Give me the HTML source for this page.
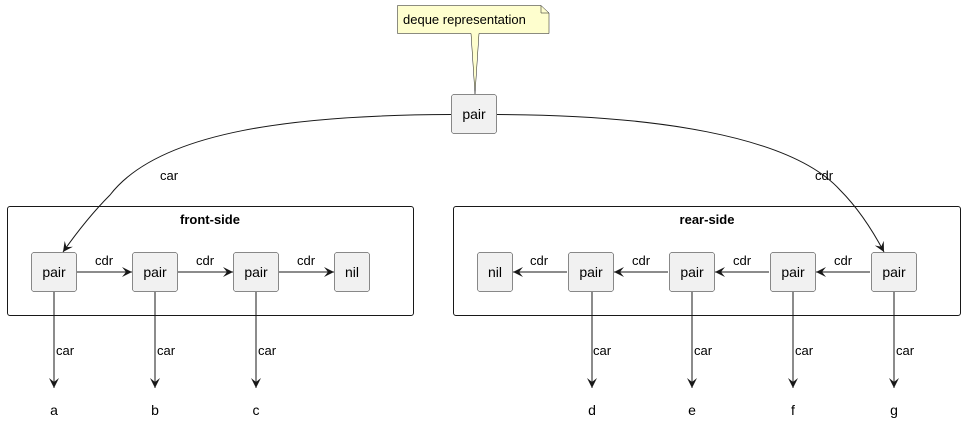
<!DOCTYPE html>
<html><head><meta charset="utf-8"><style>
body{margin:0;background:#fff}
text{font-family:"Liberation Sans","DejaVu Sans",sans-serif;font-size:13px;fill:#000}
</style></head><body>
<svg width="965" height="421" xmlns="http://www.w3.org/2000/svg">
<defs><marker id="a" markerWidth="12" markerHeight="10" refX="10" refY="5" orient="auto" markerUnits="userSpaceOnUse"><path d="M0,0 L10,5 L0,10 L4,5 Z" fill="#181818"/></marker></defs>
<g fill="none" stroke="#181818" stroke-width="1">
<rect x="7.5" y="206.5" width="406" height="109" rx="2.5"/>
<rect x="453.5" y="206.5" width="507" height="109" rx="2.5"/>
</g>
<text x="210" y="224" text-anchor="middle" font-weight="bold">front-side</text>
<text x="707" y="224" text-anchor="middle" font-weight="bold">rear-side</text>
<path d="M397.5,5.5 H541 L549,13 V33.5 H479 L475,94 L471,33.5 H397.5 Z" fill="#fefece" stroke="#181818" stroke-width="0.5"/>
<path d="M541,5.5 V13 H549" fill="none" stroke="#181818" stroke-width="0.5"/>
<text x="403" y="24" font-size="12">deque representation</text>
<g fill="#f1f1f1" stroke="#181818" stroke-width="0.5">
<rect x="451.5" y="94.5" width="45" height="39" rx="2.5"/>
<rect x="31.5" y="252.5" width="45" height="39" rx="2.5"/>
<rect x="132.5" y="252.5" width="45" height="39" rx="2.5"/>
<rect x="233.5" y="252.5" width="45" height="39" rx="2.5"/>
<rect x="334.5" y="252.5" width="35" height="39" rx="2.5"/>
<rect x="477.5" y="252.5" width="35" height="39" rx="2.5"/>
<rect x="568.5" y="252.5" width="45" height="39" rx="2.5"/>
<rect x="669.5" y="252.5" width="45" height="39" rx="2.5"/>
<rect x="770.5" y="252.5" width="45" height="39" rx="2.5"/>
<rect x="871.5" y="252.5" width="45" height="39" rx="2.5"/>
</g>
<g text-anchor="middle" font-size="14">
<text x="474" y="119" style="font-size:14px">pair</text>
<text x="54" y="277" style="font-size:14px">pair</text>
<text x="155" y="277" style="font-size:14px">pair</text>
<text x="256" y="277" style="font-size:14px">pair</text>
<text x="352" y="277" style="font-size:14px">nil</text>
<text x="495" y="277" style="font-size:14px">nil</text>
<text x="591" y="277" style="font-size:14px">pair</text>
<text x="692" y="277" style="font-size:14px">pair</text>
<text x="793" y="277" style="font-size:14px">pair</text>
<text x="894" y="277" style="font-size:14px">pair</text>
</g>
<g fill="none" stroke="#181818" stroke-width="1" marker-end="url(#a)">
<path d="M451,114.5 C300,115 160,130 110,195 C90,215 75,235 63,252"/>
<path d="M497,114.5 C650,115 790,135 840,190 C860,210 875,235 884,252"/>
<path d="M77,272 H132"/><path d="M178,272 H233"/><path d="M279,272 H334"/>
<path d="M870,272 H816"/><path d="M769,272 H715"/><path d="M668,272 H614"/><path d="M567,272 H513"/>
<path d="M54,292 V388"/><path d="M155,292 V388"/><path d="M256,292 V388"/>
<path d="M592,292 V388"/><path d="M692,292 V388"/><path d="M793,292 V388"/><path d="M894,292 V388"/>
</g>
<text x="160" y="180">car</text><text x="815" y="180">cdr</text>
<text x="95" y="265">cdr</text><text x="196" y="265">cdr</text><text x="297" y="265">cdr</text>
<text x="530" y="265">cdr</text><text x="632" y="265">cdr</text><text x="733" y="265">cdr</text><text x="834" y="265">cdr</text>
<text x="56" y="355">car</text><text x="157" y="355">car</text><text x="258" y="355">car</text>
<text x="593" y="355">car</text><text x="694" y="355">car</text><text x="795" y="355">car</text><text x="896" y="355">car</text>
<g text-anchor="middle" style="font-size:14px">
<text x="54" y="415" style="font-size:14px">a</text><text x="155" y="415" style="font-size:14px">b</text><text x="256" y="415" style="font-size:14px">c</text>
<text x="592" y="415" style="font-size:14px">d</text><text x="692" y="415" style="font-size:14px">e</text><text x="793" y="415" style="font-size:14px">f</text><text x="894" y="415" style="font-size:14px">g</text>
</g>
</svg>
</body></html>
